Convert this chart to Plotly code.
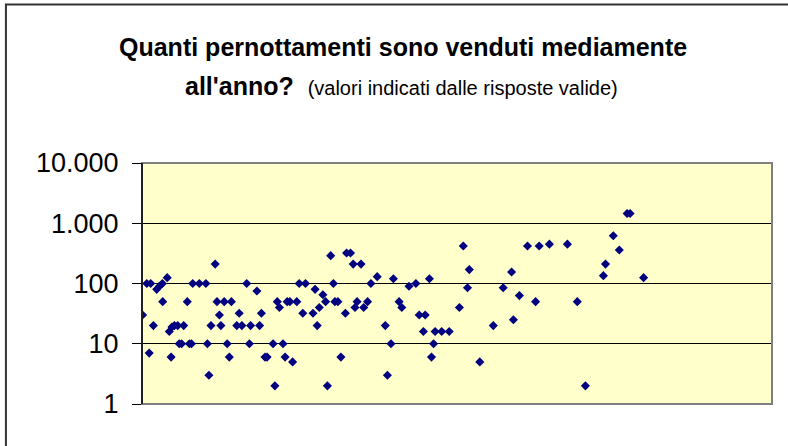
import plotly.graph_objects as go

# response position (horizontal order) and nights sold per year
resp_x = [0.2, 1.6, 2.4, 2.9, 3.8, 4.9, 5.8, 6.8, 6.9, 8.4, 9.1, 9.7, 10.0, 10.8, 11.9,
          12.4, 13.2, 13.9, 15.1, 15.8, 16.5, 16.9, 19.1, 21.3, 21.8, 22.3, 23.0, 24.4,
          25.0, 25.8, 26.3, 27.4, 28.4, 29.1, 29.8, 31.6, 32.4, 33.3, 34.9, 35.8, 36.2,
          38.3, 39.2, 39.8, 41.0, 41.7, 43.7, 44.3, 45.1, 45.8, 47.0, 47.7, 48.4, 49.3,
          50.2, 51.6, 52.4, 53.6, 54.5, 57.0, 57.7, 58.4, 59.1, 60.3, 61.2, 61.8, 62.9,
          63.8, 64.3, 65.3, 66.3, 67.8, 68.2, 69.5, 70.4, 71.0, 71.7, 73.0, 73.9, 75.2,
          76.3, 78.4, 81.1, 81.8, 83.0, 83.8, 85.7, 86.6, 89.0, 91.3, 92.4, 93.8, 94.4,
          95.8, 96.5, 97.2, 97.7, 99.9, 102.4, 105.8, 107.1, 108.5, 109.1, 112.6, 117.1,
          120.4, 123.2, 123.8, 125.8, 128.5, 131.2, 132.4, 135.8, 141.8, 145.1, 147.8,
          153.8, 154.5, 157.1, 159.1, 161.7, 162.7, 167.2]
nights = [30, 100, 7, 100, 20, 80, 90, 100, 50, 125, 16, 6, 19, 20, 20,
          10, 10, 20, 50, 10, 10, 100, 100, 100, 10, 3, 20, 210,
          50, 30, 20, 50, 10, 6, 50, 20, 32, 20, 100, 10, 20,
          75, 20, 32, 6, 6, 10, 2, 50, 40, 10, 6, 50, 50,
          5, 50, 100, 32, 100, 32, 80, 20, 40, 65, 50, 2, 290,
          100, 50, 50, 6, 32, 320, 320, 210, 40, 50, 210, 40, 50,
          100, 130, 20, 3, 10, 120, 50, 40, 90, 100, 30, 16, 30,
          120, 6, 10, 16, 16, 16, 40, 420, 85, 170, 5, 20,
          85, 155, 25, 63, 420, 50, 420, 450, 450, 50, 2,
          135, 210, 620, 360, 1450, 1450, 125]

y_ticks = [1, 10, 100, 1000, 10000]
y_labels = ["1", "10", "100", "1.000", "10.000"]

FONT = "Arial, Liberation Sans, sans-serif"

fig = go.Figure(go.Scatter(
    x=resp_x, y=nights, mode="markers",
    marker=dict(symbol="diamond", size=7, color="#000080"),
))

fig.update_layout(
    width=788, height=446,
    margin=dict(l=142, r=16, t=163, b=42),
    paper_bgcolor="white", plot_bgcolor="#FFFFCC",
    showlegend=False,
    font=dict(family=FONT, color="black"),
)
fig.update_xaxes(range=[0, 210], showgrid=False, zeroline=False,
                 showticklabels=False, ticks="")
fig.update_yaxes(type="log", range=[0, 4], tickvals=y_ticks, ticktext=y_labels,
                 showgrid=True, gridcolor="#000000", gridwidth=1,
                 showline=True, linecolor="black", linewidth=1,
                 ticks="outside", ticklen=9, tickcolor="black",
                 ticklabelstandoff=8, tickfont=dict(size=27, family=FONT))

# plot area frame (grey) and outer chart frame
fig.add_shape(type="rect", xref="paper", yref="paper", x0=0, x1=1, y0=0, y1=1,
              line=dict(color="#808080", width=2), layer="above")
fig.add_shape(type="line", xref="paper", yref="paper", x0=0, x1=0, y0=0, y1=1,
              line=dict(color="black", width=1.5), layer="above")
fig.add_shape(type="rect", xref="paper", yref="paper",
              x0=-0.2160, x1=1.05, y0=-0.25, y1=1.658,
              line=dict(color="#333333", width=2))

fig.add_annotation(text="<b>Quanti pernottamenti sono venduti mediamente</b>",
                   xref="paper", yref="paper", x=(403 - 142) / 630, y=(404 - 47) / 241,
                   showarrow=False, font=dict(size=25, family=FONT),
                   xanchor="center", yanchor="middle")
fig.add_annotation(text="<b>all'anno?</b>  <span style='font-size:20px'>(valori indicati dalle risposte valide)</span>",
                   xref="paper", yref="paper", x=(401 - 142) / 630, y=(404 - 86) / 241,
                   showarrow=False, font=dict(size=25, family=FONT),
                   xanchor="center", yanchor="middle")

fig.write_html("out.html", config={"displayModeBar": False},
               post_script="document.body.style.margin='0';")
